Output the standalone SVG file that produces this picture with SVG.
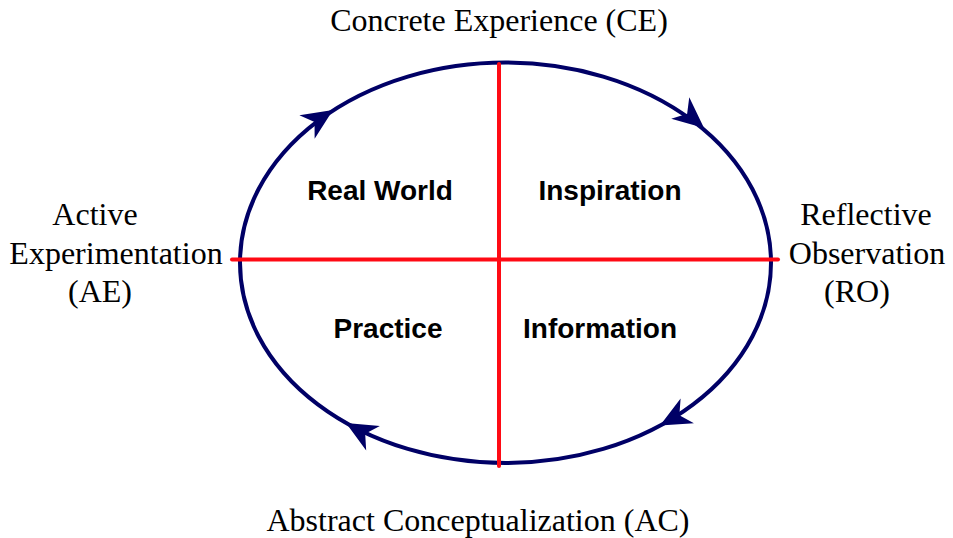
<svg xmlns="http://www.w3.org/2000/svg" width="953" height="538" viewBox="0 0 953 538">
<style>
.lbl{font-family:"Liberation Serif","Times New Roman",serif;font-size:32px;fill:#000}
.q{font-family:"Liberation Sans",Arial,sans-serif;font-size:28px;font-weight:bold;fill:#000;text-anchor:middle}
.cycle{fill:none;stroke:#000066;stroke-width:4}
.axis{stroke:#ff0a14;stroke-width:4;stroke-linecap:round}
.head{fill:#000066}
</style>
<defs>
<path id="ah" class="head" d="M0,0 L-31,-14 L-22,0 L-31,14 Z"/>
</defs>
<rect width="953" height="538" fill="#fff"/>
<g id="connectors">
<ellipse class="cycle" cx="505.5" cy="262.75" rx="265.5" ry="200.25"/>
<line class="axis" x1="499" y1="64" x2="499" y2="466"/>
<line class="axis" x1="232" y1="259.5" x2="778" y2="259.5"/>
<use href="#ah" transform="translate(333,110) rotate(-33)"/>
<use href="#ah" transform="translate(704,128) rotate(40)"/>
<use href="#ah" transform="translate(660,425.6) rotate(151.6)"/>
<use href="#ah" transform="translate(346,423) rotate(209.3)"/>
</g>
<g id="ce"><text class="lbl" x="499" y="31" text-anchor="middle">Concrete Experience (CE)</text></g>
<g id="ro"><text class="lbl" text-anchor="middle"><tspan x="866" y="225">Reflective</tspan><tspan x="867" y="263.5">Observation</tspan><tspan x="857" y="302">(RO)</tspan></text></g>
<g id="ac"><text class="lbl" x="478" y="531" text-anchor="middle">Abstract Conceptualization (AC)</text></g>
<g id="ae"><text class="lbl" text-anchor="middle"><tspan x="95" y="225">Active</tspan><tspan x="116" y="263.5">Experimentation</tspan><tspan x="100" y="302">(AE)</tspan></text></g>
<g id="realworld"><text class="q" x="380" y="200">Real World</text></g>
<g id="inspiration"><text class="q" x="610" y="200">Inspiration</text></g>
<g id="practice"><text class="q" x="388" y="338">Practice</text></g>
<g id="information"><text class="q" x="600" y="338">Information</text></g>
</svg>
